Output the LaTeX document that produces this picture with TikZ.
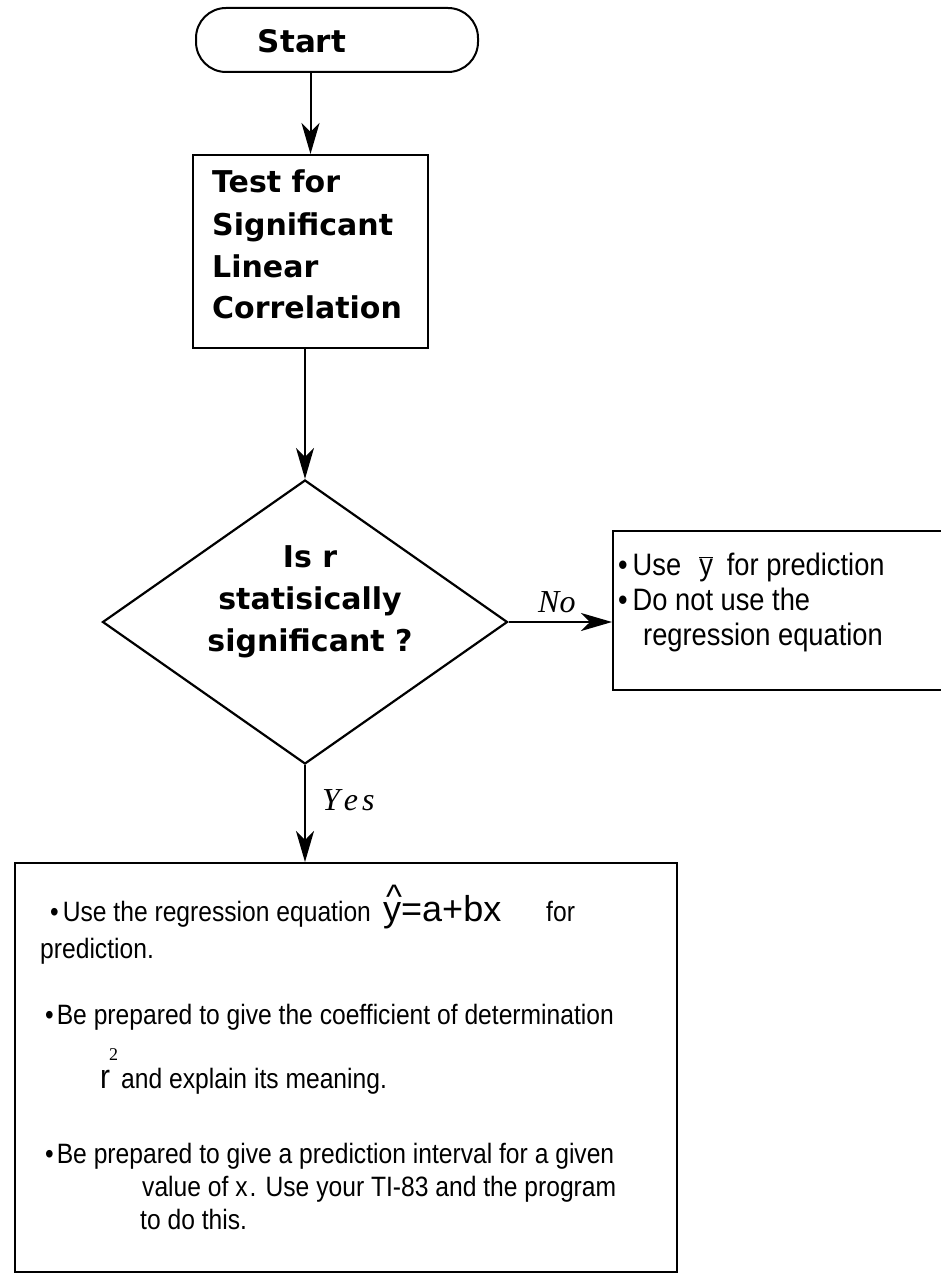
\documentclass[tikz,border=0pt]{standalone}
\usepackage{fontspec}
\usetikzlibrary{arrows.meta,shapes.geometric}
\newfontfamily\bfnt{DejaVu Sans}
\newfontfamily\nfnt[FakeStretch=0.88]{Liberation Sans}
\newfontfamily\rfnt{Liberation Sans}
\newfontfamily\sfnt{Liberation Serif}
\tikzset{
  boxline/.style={draw, line width=2pt, inner sep=0pt},
  arr/.style={line width=2pt, -{Stealth[length=31pt,width=18pt,inset=9pt]}},
  txt/.style={inner sep=0pt, anchor=base west},
  ctxt/.style={inner sep=0pt, anchor=base},
  boldtxt/.style={font=\bfnt\bfseries\fontsize{30}{36}\selectfont},
  bodytxt/.style={font=\nfnt\fontsize{28}{34}\selectfont},
  sidetxt/.style={font=\nfnt\fontsize{31}{36}\selectfont},
  lbl/.style={font=\sfnt\itshape\fontsize{32}{36}\selectfont}
}
\begin{document}
\begin{tikzpicture}[x=1pt,y=-1pt]
\useasboundingbox[fill=white] (0,0) rectangle (940,1281);

% Start terminal
\node[boxline, rounded corners=30pt, minimum width=282pt, minimum height=64pt] (start) at (337,40) {};
\node[ctxt, font=\bfnt\bfseries\fontsize{31}{36}\selectfont] (starttxt) at (302,53) {Start};

% Test box
\node[boxline, minimum width=235pt, minimum height=193pt] (test) at (310.5,251.5) {};
\node[txt, boldtxt] (t1) at (212,193) {Test for};
\node[txt, boldtxt] (t2) at (212,236) {Significant};
\node[txt, boldtxt] (t3) at (212,277) {Linear};
\node[txt, boldtxt] (t4) at (212,318) {Correlation};

% Decision
\node[diamond, draw, line width=2.2pt, inner sep=0pt, aspect=1.43,
      minimum width=405pt, minimum height=284pt] (dec) at (305,622) {};
\node[ctxt, boldtxt] (d1) at (310,567) {Is r};
\node[ctxt, boldtxt] (d2) at (310,609) {statisically};
\node[ctxt, boldtxt] (d3) at (310,651) {significant ?};

% No box
\node[boxline, minimum width=329pt, minimum height=159pt] (nobox) at (777.5,610.5) {};
\node[txt, sidetxt] (n1) at (618,575) {•\kern5pt Use\kern18pt$\overline{\mbox{\nfnt y}}$\kern14pt for prediction};
\node[txt, sidetxt] (n2) at (618,610) {•\kern5pt Do not use the};
\node[txt, sidetxt] (n3) at (643,645) {regression equation};

% Yes box
\node[boxline, minimum width=662pt, minimum height=409pt] (yesbox) at (346,1067.5) {};
\node[txt, bodytxt] (y1) at (50,921) {•\kern4pt Use the regression equation};
\node[txt, font=\rfnt\fontsize{36}{40}\selectfont] (y1eq) at (383,921) {y=a+bx};
\node[txt, font=\rfnt\fontsize{34}{40}\selectfont] (y1hat) at (386,908) {\textasciicircum};
\node[txt, bodytxt] (y1b) at (546,921) {for};
\node[txt, bodytxt] (y2) at (40,958) {prediction.};
\node[txt, bodytxt] (y3) at (45,1024) {•\kern3pt Be prepared to give the coefficient of determination};
\node[txt, font=\nfnt\fontsize{34}{40}\selectfont] (y4r) at (100,1088) {r};
\node[txt, font=\sfnt\fontsize{18}{20}\selectfont] (y4s) at (109,1060) {2};
\node[txt, bodytxt] (y4) at (121,1088) {and explain its meaning.};
\node[txt, bodytxt] (y5) at (45,1163) {•\kern3pt Be prepared to give a prediction interval for a given};
\node[txt, bodytxt] (y6) at (142,1196) {value of x\kern2pt. Use your TI-83 and the program};
\node[txt, bodytxt] (y7) at (140,1229) {to do this.};

% Connectors
\draw[arr] (start.south -| test.north) -- (test.north);
\draw[arr] (test.south -| dec.north) -- (dec.north);
\draw[arr] (dec.east) -- (nobox.west |- dec.east);
\draw[arr] (dec.south) -- (dec.south |- yesbox.north);

% Labels
\node[txt, lbl] (nolbl) at (538,612) {No};
\node[txt, lbl] (yeslbl) at (322,810) {Y\kern4pt e\kern4pt s};
\end{tikzpicture}
\end{document}
